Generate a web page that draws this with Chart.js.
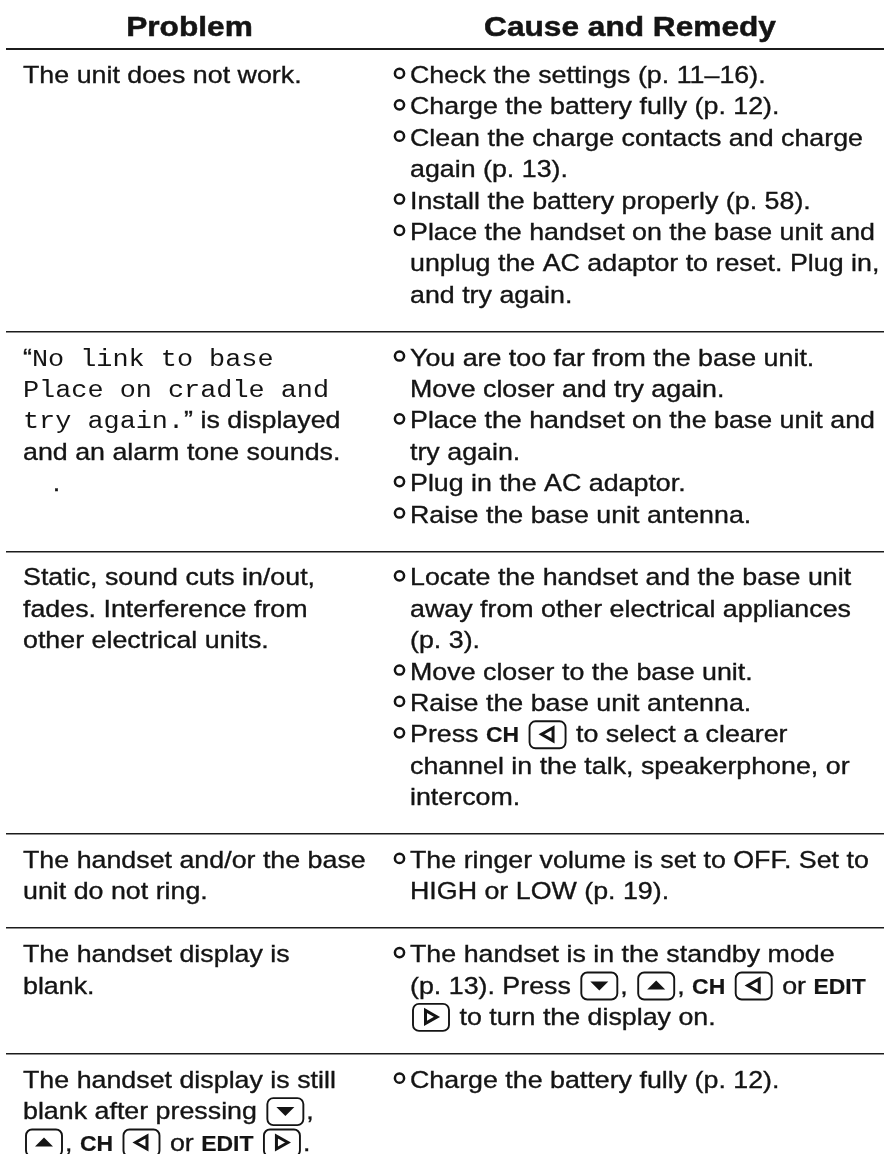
<!DOCTYPE html>
<html>
<head>
<meta charset="utf-8">
<title>Problem / Cause and Remedy</title>
<script src="https://cdn.jsdelivr.net/npm/chart.js@4"></script>
<style>
    html, body { margin: 0; padding: 0; background: #fff; }
    canvas { display: block; }
</style>
</head>
<body>
<canvas id="myChart" width="884" height="1154"></canvas>
<script>
    // markup in the strings: `mono`, *bold*, {down} {up} {left} {right} are the key icons
    const headers = ['Problem', 'Cause and Remedy'];

    const problems = [
        ['The unit does not work.'],
        ['“`No link to base`', '`Place on cradle and`', '`try again.`” is displayed', 'and an alarm tone sounds.', '    .'],
        ['Static, sound cuts in/out,', 'fades. Interference from', 'other electrical units.'],
        ['The handset and/or the base', 'unit do not ring.'],
        ['The handset display is', 'blank.'],
        ['The handset display is still', 'blank after pressing {down},', '{up}, *CH* {left} or *EDIT* {right}.']
    ];

    const causes = [
        [
            ['Check the settings (p. 11–16).'],
            ['Charge the battery fully (p. 12).'],
            ['Clean the charge contacts and charge', 'again (p. 13).'],
            ['Install the battery properly (p. 58).'],
            ['Place the handset on the base unit and', 'unplug the AC adaptor to reset. Plug in,', 'and try again.']
        ],
        [
            ['You are too far from the base unit.', 'Move closer and try again.'],
            ['Place the handset on the base unit and', 'try again.'],
            ['Plug in the AC adaptor.'],
            ['Raise the base unit antenna.']
        ],
        [
            ['Locate the handset and the base unit', 'away from other electrical appliances', '(p. 3).'],
            ['Move closer to the base unit.'],
            ['Raise the base unit antenna.'],
            ['Press *CH* {left} to select a clearer', 'channel in the talk, speakerphone, or', 'intercom.']
        ],
        [
            ['The ringer volume is set to OFF. Set to', 'HIGH or LOW (p. 19).']
        ],
        [
            ['The handset is in the standby mode', '(p. 13). Press {down}, {up}, *CH* {left} or *EDIT*', '{right} to turn the display on.']
        ],
        [
            ['Charge the battery fully (p. 12).']
        ]
    ];

    // layout of the page, the y axis counts text lines from the rule under the header
    const lineHeight = 31.4;
    const headerRule = 49;
    const firstLine = 1.08;
    const headerLine = -0.4;
    const xProblem = 23;
    const xBullet = 399.5;
    const xCause = 410;
    const xHeaders = [189.5, 630];
    const ink = '#141414';

    // the scan is wider than the fonts, so each face has its own x stretch
    const faces = {
        body: { font: '24.5px "Liberation Sans"', sx: 1.094, heavy: 0.35 },
        mono: { font: '23px "Liberation Mono"', sx: 1.167, heavy: 0 },
        bold: { font: 'bold 22.5px "Liberation Sans"', sx: 1.02, heavy: 0.2 },
        head: { font: 'bold 28px "Liberation Sans"', sx: 1.13, heavy: 0.5 }
    };

    let rules = [0];
    let problemPoints = [];
    let causePoints = [];

    problems.forEach(function (lines, r) {
        let top = rules[rules.length - 1];
        lines.forEach(function (text, i) {
            problemPoints.push({ x: xProblem, y: top + firstLine + i, text: text });
        });
        let n = 0;
        causes[r].forEach(function (item) {
            item.forEach(function (text, i) {
                causePoints.push({ x: xCause, y: top + firstLine + n, text: text, bullet: i === 0 });
                n++;
            });
        });
        rules.push(top + Math.max(n, lines.length) + 1);
    });

    let headerPoints = headers.map(function (text, i) {
        return { x: xHeaders[i], y: headerLine, text: text, header: true };
    });

    function splitMarkup(text) {
        return text.split(/(`[^`]*`|\*[^*]*\*|\{\w+\})/).filter(function (s) { return s !== ''; });
    }

    // draws one run of text with the stretch of its face, returns the advance
    function drawRun(ctx, text, face, x, y, align) {
        ctx.font = face.font;
        ctx.textAlign = align || 'left';
        ctx.textBaseline = 'alphabetic';
        ctx.fillStyle = ink;
        ctx.save();
        ctx.translate(x, y);
        ctx.scale(face.sx, 1);
        ctx.fillText(text, 0, 0);
        if (face.heavy) {
            ctx.lineWidth = face.heavy;
            ctx.strokeStyle = ink;
            ctx.strokeText(text, 0, 0);
        }
        ctx.restore();
        return ctx.measureText(text).width * face.sx;
    }

    function drawKey(ctx, name, x, base) {
        let cx = x + 21, cy = base - 8;
        ctx.fillStyle = ink;
        ctx.strokeStyle = ink;
        ctx.lineWidth = 1.9;
        ctx.beginPath();
        ctx.roundRect(x + 3, base - 21, 36, 27, 6);
        ctx.stroke();
        ctx.beginPath();
        if (name === 'down') {
            ctx.moveTo(cx - 9, cy - 4); ctx.lineTo(cx + 9, cy - 4); ctx.lineTo(cx, cy + 5);
        } else if (name === 'up') {
            ctx.moveTo(cx - 9, cy + 4); ctx.lineTo(cx + 9, cy + 4); ctx.lineTo(cx, cy - 5);
        } else if (name === 'left') {
            ctx.moveTo(cx + 5.5, cy - 6.5); ctx.lineTo(cx + 5.5, cy + 6.5); ctx.lineTo(cx - 6, cy);
        } else {
            ctx.moveTo(cx - 5.5, cy - 6.5); ctx.lineTo(cx - 5.5, cy + 6.5); ctx.lineTo(cx + 6, cy);
        }
        ctx.closePath();
        if (name === 'down' || name === 'up') {
            ctx.fill();
        } else {
            ctx.lineWidth = 3;
            ctx.stroke();
        }
        return 42;
    }

    function drawLine(ctx, text, x, y) {
        splitMarkup(text).forEach(function (seg) {
            if (seg[0] === '{') {
                x += drawKey(ctx, seg.slice(1, -1), x, y);
            } else if (seg[0] === '`') {
                x += drawRun(ctx, seg.slice(1, -1), faces.mono, x, y);
            } else if (seg[0] === '*') {
                x += drawRun(ctx, seg.slice(1, -1), faces.bold, x, y);
            } else {
                x += drawRun(ctx, seg, faces.body, x, y);
            }
        });
    }

    // chart.js only places the invisible points, this writes the table text on them
    const tableText = {
        id: 'tableText',
        afterDatasetsDraw(chart) {
            let ctx = chart.ctx;
            ctx.save();
            chart.data.datasets.forEach(function (dataset, d) {
                let elements = chart.getDatasetMeta(d).data;
                dataset.data.forEach(function (pt, i) {
                    let el = elements[i];
                    if (pt.header) {
                        drawRun(ctx, pt.text, faces.head, el.x, el.y, 'center');
                        return;
                    }
                    if (pt.bullet) {
                        ctx.beginPath();
                        ctx.arc(xBullet, el.y - 9.5, 4.6, 0, Math.PI * 2);
                        ctx.lineWidth = 2.5;
                        ctx.strokeStyle = ink;
                        ctx.stroke();
                    }
                    drawLine(ctx, pt.text, el.x, el.y);
                });
            });
            ctx.restore();
        }
    };

    let ctx = document.getElementById('myChart').getContext('2d');

    let chart = new Chart(ctx, {
        type: 'scatter',
        plugins: [tableText],
        data: {
            datasets: [
                { label: 'Header', data: headerPoints, pointRadius: 0 },
                { label: 'Problem', data: problemPoints, pointRadius: 0 },
                { label: 'Cause and Remedy', data: causePoints, pointRadius: 0 }
            ]
        },
        options: {
            responsive: false,
            animation: false,
            layout: { padding: { left: 6 } },
            plugins: {
                legend: { display: false },
                tooltip: { enabled: false }
            },
            scales: {
                x: { type: 'linear', display: false, min: 6, max: 884 },
                y: {
                    type: 'linear',
                    reverse: true,
                    min: -headerRule / lineHeight,
                    max: (1154 - headerRule) / lineHeight,
                    afterBuildTicks: function (scale) {
                        scale.ticks = rules.map(function (v) { return { value: v }; });
                    },
                    ticks: { display: false },
                    border: { display: false },
                    grid: {
                        drawTicks: false,
                        color: '#1c1c1c',
                        lineWidth: function (c) { return c.index === 0 ? 2 : 1.5; }
                    }
                }
            }
        }
    });
</script>
</body>
</html>
